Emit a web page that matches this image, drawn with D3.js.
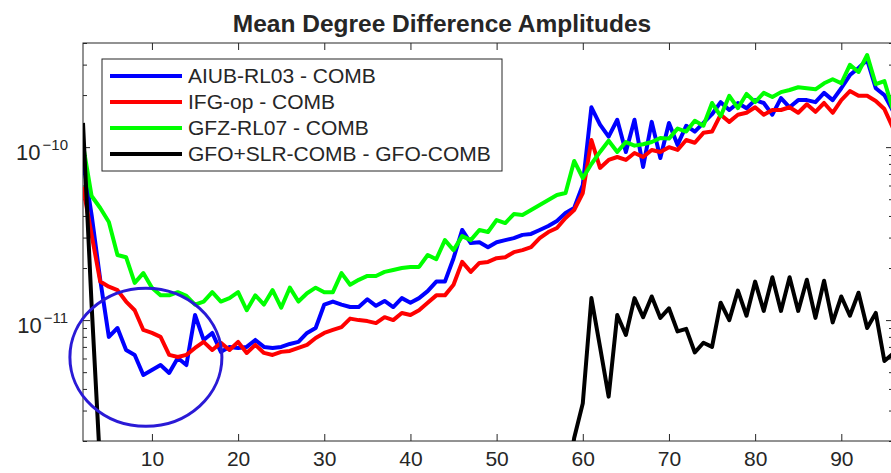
<!DOCTYPE html>
<html>
<head>
<meta charset="utf-8">
<script src="https://cdn.jsdelivr.net/npm/d3@7"></script>
<style>
  body { margin: 0; background: #fff; }
  text { font-family: "Liberation Sans", Arial, Helvetica, sans-serif; fill: #262626; }
</style>
</head>
<body>
<div id="chart"></div>
<script>
// spherical harmonic degree 2..96
var degrees = d3.range(2, 97);

var aiub = [8.43e-11, 4.05e-11, 1.71e-11, 8.0e-12, 9.0e-12, 6.72e-12, 6.29e-12, 4.82e-12, 5.15e-12, 5.50e-12,
  4.95e-12, 6.04e-12, 5.50e-12, 1.07e-11, 7.68e-12, 8.43e-12, 6.55e-12, 7.0e-12, 6.9e-12, 7.0e-12,
  7.68e-12, 7.0e-12, 6.9e-12, 7.0e-12, 7.28e-12, 7.48e-12, 8.43e-12, 9.0e-12, 1.23e-11, 1.28e-11,
  1.23e-11, 1.19e-11, 1.19e-11, 1.32e-11, 1.21e-11, 1.29e-11, 1.19e-11, 1.34e-11, 1.26e-11, 1.34e-11,
  1.47e-11, 1.67e-11, 1.67e-11, 2.28e-11, 3.32e-11, 2.79e-11, 2.82e-11, 2.64e-11, 2.82e-11, 2.90e-11,
  2.98e-11, 3.11e-11, 3.15e-11, 3.32e-11, 3.50e-11, 3.74e-11, 4.16e-11, 4.45e-11, 6.05e-11, 1.70e-10,
  1.35e-10, 1.15e-10, 1.44e-10, 9.38e-11, 1.44e-10, 7.68e-11, 1.40e-10, 8.66e-11, 1.38e-10, 1.03e-10,
  1.33e-10, 1.23e-10, 1.38e-10, 1.55e-10, 1.82e-10, 1.64e-10, 1.80e-10, 1.68e-10, 1.87e-10, 1.80e-10,
  1.54e-10, 1.92e-10, 1.70e-10, 1.87e-10, 1.87e-10, 1.82e-10, 2.06e-10, 1.87e-10, 2.19e-10, 2.61e-10,
  2.87e-10, 3.19e-10, 2.19e-10, 2.0e-10, 1.62e-10];

var ifg = [5.89e-11, 3.11e-11, 1.67e-11, 1.56e-11, 1.49e-11, 1.28e-11, 1.14e-11, 8.77e-12, 8.43e-12, 8.0e-12,
  6.29e-12, 6.12e-12, 6.29e-12, 6.9e-12, 7.48e-12, 6.72e-12, 7.38e-12, 6.72e-12, 7.48e-12, 6.46e-12,
  7.19e-12, 6.46e-12, 6.29e-12, 6.55e-12, 6.63e-12, 6.9e-12, 7.19e-12, 7.88e-12, 8.43e-12, 8.77e-12,
  9.11e-12, 1.02e-11, 1.0e-11, 9.87e-12, 9.61e-12, 1.04e-11, 1.0e-11, 1.10e-11, 1.07e-11, 1.14e-11,
  1.26e-11, 1.39e-11, 1.39e-11, 1.60e-11, 2.17e-11, 1.90e-11, 2.14e-11, 2.17e-11, 2.28e-11, 2.31e-11,
  2.47e-11, 2.54e-11, 2.64e-11, 2.98e-11, 3.23e-11, 3.41e-11, 3.89e-11, 4.33e-11, 5.43e-11, 1.10e-10,
  7.58e-11, 8.43e-11, 8.77e-11, 8.43e-11, 9.25e-11, 8.77e-11, 9.63e-11, 9.38e-11, 1.0e-10, 9.63e-11,
  1.10e-10, 1.06e-10, 1.21e-10, 1.23e-10, 1.54e-10, 1.40e-10, 1.54e-10, 1.58e-10, 1.70e-10, 1.54e-10,
  1.64e-10, 1.64e-10, 1.70e-10, 1.58e-10, 1.77e-10, 1.60e-10, 1.80e-10, 1.58e-10, 1.87e-10, 2.11e-10,
  1.98e-10, 1.98e-10, 1.85e-10, 1.66e-10, 1.29e-10];

var gfz = [1.03e-10, 5.22e-11, 4.45e-11, 3.69e-11, 2.38e-11, 2.31e-11, 1.64e-11, 1.87e-11, 1.54e-11, 1.39e-11,
  1.39e-11, 1.45e-11, 1.38e-11, 1.23e-11, 1.28e-11, 1.45e-11, 1.28e-11, 1.34e-11, 1.45e-11, 1.14e-11,
  1.39e-11, 1.23e-11, 1.49e-11, 1.18e-11, 1.54e-11, 1.28e-11, 1.43e-11, 1.54e-11, 1.45e-11, 1.45e-11,
  1.87e-11, 1.60e-11, 1.71e-11, 1.80e-11, 1.80e-11, 1.90e-11, 1.95e-11, 2.0e-11, 2.03e-11, 2.03e-11,
  2.38e-11, 2.25e-11, 2.90e-11, 2.54e-11, 3.06e-11, 2.90e-11, 3.32e-11, 3.23e-11, 3.79e-11, 3.64e-11,
  4.10e-11, 4.05e-11, 4.33e-11, 4.63e-11, 4.95e-11, 5.29e-11, 5.43e-11, 8.32e-11, 6.63e-11, 7.99e-11,
  9.38e-11, 1.09e-10, 9.38e-11, 1.07e-10, 1.02e-10, 1.04e-10, 1.07e-10, 1.13e-10, 1.12e-10, 1.28e-10,
  1.23e-10, 1.42e-10, 1.33e-10, 1.80e-10, 1.51e-10, 1.98e-10, 1.68e-10, 2.03e-10, 1.82e-10, 2.06e-10,
  1.95e-10, 2.08e-10, 2.14e-10, 2.22e-10, 2.19e-10, 2.16e-10, 2.34e-10, 2.47e-10, 2.34e-10, 2.99e-10,
  2.72e-10, 3.41e-10, 2.31e-10, 2.41e-10, 1.64e-10];

// degrees 5..57 lie below the visible range (not readable) -> null
var gfoSlr = [1.38e-10, 1.22e-11, 1.4e-12]
  .concat(new Array(53).fill(null))
  .concat([1.0e-12, 2.08e-12, 3.30e-12, 1.34e-11, 7.0e-12, 3.61e-12, 1.07e-11, 8.2e-12, 1.34e-11, 1.04e-11,
    1.37e-11, 1.03e-11, 1.17e-11, 8.6e-12, 8.9e-12, 6.5e-12, 7.4e-12, 7.0e-12, 1.26e-11, 1.0e-11,
    1.48e-11, 1.06e-11, 1.67e-11, 1.13e-11, 1.77e-11, 1.13e-11, 1.77e-11, 1.13e-11, 1.71e-11, 1.03e-11,
    1.69e-11, 9.7e-12, 1.37e-11, 1.06e-11, 1.44e-11, 9.0e-12, 1.10e-11, 5.8e-12, 6.4e-12]);

var seriesNames = ["AIUB-RL03 - COMB", "IFG-op - COMB", "GFZ-RL07 - COMB", "GFO+SLR-COMB - GFO-COMB"];
var seriesData = [aiub, ifg, gfz, gfoSlr];
var seriesColors = ["#0000ff", "#ff0000", "#00ff00", "#000000"];

var xTicks = [10, 20, 30, 40, 50, 60, 70, 80, 90];
var yMajorTicks = [1e-11, 1e-10];
var yMinorTicks = [2e-12, 3e-12, 4e-12, 5e-12, 6e-12, 7e-12, 8e-12, 9e-12,
  2e-11, 3e-11, 4e-11, 5e-11, 6e-11, 7e-11, 8e-11, 9e-11, 2e-10, 3e-10, 4e-10];
var xDomain = [2, 96];
var yDomain = [2e-12, 4e-10];
var title = "Mean Degree Difference Amplitudes";

var width = 891, height = 473;
var margin = {top: 43, right: -2, bottom: 32, left: 83};

var svg = d3.select("#chart").append("svg")
    .attr("width", width)
    .attr("height", height);

var x = d3.scaleLinear().domain(xDomain).range([margin.left, width - margin.right]);
var y = d3.scaleLog().domain(yDomain).range([height - margin.bottom, margin.top]);

svg.append("defs").append("clipPath").attr("id", "plotclip")
  .append("rect")
    .attr("x", x.range()[0]).attr("y", y.range()[1])
    .attr("width", x.range()[1] - x.range()[0])
    .attr("height", y.range()[0] - y.range()[1]);

// axes (ticks point inward, MATLAB style)
var axisColor = "#262626";
function styleAxis(g) {
  g.select(".domain").remove();
  g.selectAll(".tick line").attr("stroke", axisColor);
  g.selectAll("text").attr("fill", axisColor).style("font-size", "22px");
}

svg.append("g")
    .attr("transform", "translate(0," + y.range()[0] + ")")
    .call(d3.axisBottom(x).tickValues(xTicks).tickSizeInner(-7).tickSizeOuter(0).tickPadding(10))
    .call(styleAxis)
    .selectAll("text").style("font-size", "21px");

svg.append("g")
    .attr("transform", "translate(0," + y.range()[1] + ")")
    .call(d3.axisTop(x).tickValues(xTicks).tickSizeInner(-7).tickSizeOuter(0).tickFormat(""))
    .call(styleAxis);

[[d3.axisLeft, x.range()[0]], [d3.axisRight, x.range()[1]]].forEach(function(a) {
  svg.append("g")
      .attr("transform", "translate(" + a[1] + ",0)")
      .call(a[0](y).tickValues(yMinorTicks).tickSizeInner(-4).tickSizeOuter(0).tickFormat(""))
      .call(styleAxis);
});

svg.append("g")
    .attr("transform", "translate(" + x.range()[1] + ",0)")
    .call(d3.axisRight(y).tickValues(yMajorTicks).tickSizeInner(-7).tickSizeOuter(0).tickFormat(""))
    .call(styleAxis);

var yAxisLeft = svg.append("g")
    .attr("transform", "translate(" + x.range()[0] + ",0)")
    .call(d3.axisLeft(y).tickValues(yMajorTicks).tickSizeInner(-7).tickSizeOuter(0).tickPadding(15)
      .tickFormat(function(d) { return "10"; }))
    .call(styleAxis);

yAxisLeft.selectAll(".tick text")
    .attr("dy", "0.55em")
    .append("tspan")
    .attr("dx", 2)
    .attr("dy", -10)
    .style("font-size", "15px")
    .text(function(d) { return "\u2212" + Math.round(-Math.log10(d)); });

// axes box
svg.append("rect")
    .attr("x", x.range()[0]).attr("y", y.range()[1])
    .attr("width", x.range()[1] - x.range()[0])
    .attr("height", y.range()[0] - y.range()[1])
    .attr("fill", "none")
    .attr("stroke", axisColor)
    .attr("stroke-width", 1);

// lines
var line = d3.line()
    .defined(function(d) { return d[1] != null; })
    .x(function(d) { return x(d[0]); })
    .y(function(d) { return y(d[1]); });

svg.append("g")
    .attr("clip-path", "url(#plotclip)")
  .selectAll("path")
  .data(seriesData)
  .enter()
  .append("path")
    .attr("d", function(s) { return line(degrees.map(function(dg, i) { return [dg, s[i]]; })); })
    .attr("fill", "none")
    .attr("stroke", function(s, i) { return seriesColors[i]; })
    .attr("stroke-width", 4)
    .attr("stroke-linejoin", "round");

// title
svg.append("text")
    .attr("x", 442)
    .attr("y", 32)
    .attr("text-anchor", "middle")
    .style("font-size", "24.5px")
    .style("font-weight", "bold")
    .attr("fill", "#000")
    .text(title);

// legend
var legend = svg.append("g").attr("transform", "translate(102,59)");
legend.append("rect")
    .attr("width", 400).attr("height", 112)
    .attr("fill", "#fff")
    .attr("stroke", axisColor)
    .attr("stroke-width", 1);

var rows = legend.selectAll(".row")
  .data(seriesNames)
  .enter().append("g")
    .attr("transform", function(d, i) { return "translate(0," + (17 + i * 26) + ")"; });

rows.append("line")
    .attr("x1", 8).attr("x2", 80)
    .attr("stroke", function(d, i) { return seriesColors[i]; })
    .attr("stroke-width", 4);

rows.append("text")
    .attr("x", 86)
    .attr("dy", "0.35em")
    .style("font-size", "21px")
    .attr("fill", "#000")
    .text(function(d) { return d; });

// highlight ellipse round the low degrees
svg.append("ellipse")
    .attr("cx", x(9.3))
    .attr("cy", y(6.1e-12))
    .attr("rx", 76)
    .attr("ry", 69)
    .attr("fill", "none")
    .attr("stroke", "#2a1ad6")
    .attr("stroke-width", 3);
</script>
</body>
</html>
